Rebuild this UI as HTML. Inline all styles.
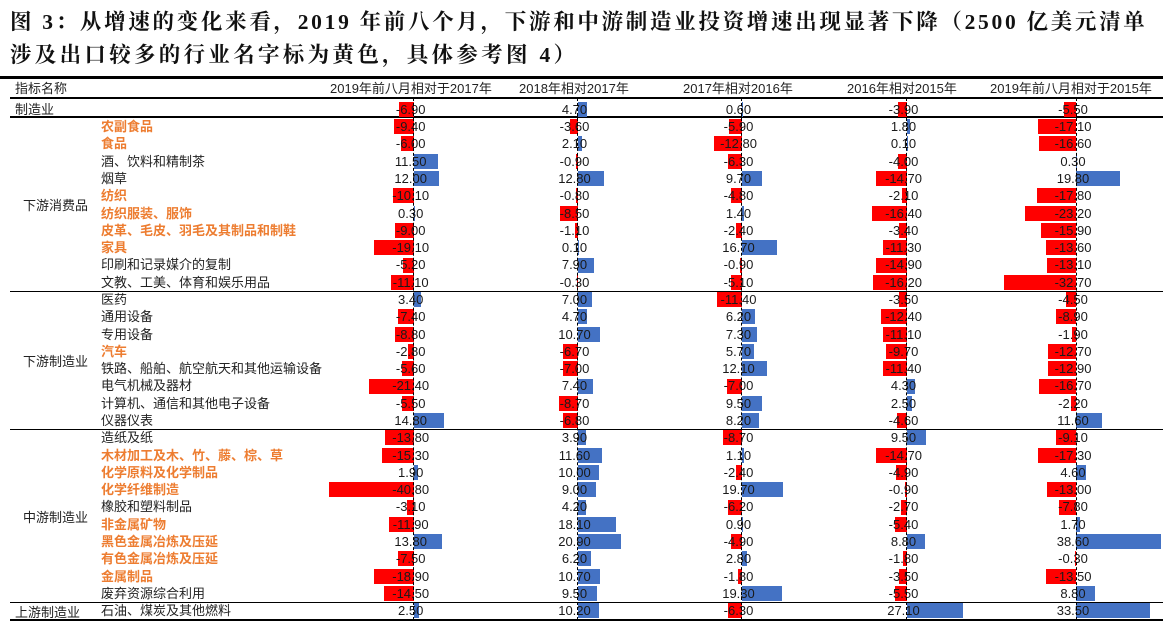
<!DOCTYPE html>
<html><head><meta charset="utf-8"><style>
*{margin:0;padding:0;box-sizing:border-box}
body{width:1163px;height:627px;background:#fff;position:relative;overflow:hidden;font-family:"Liberation Sans","Noto Sans CJK SC",sans-serif;color:#222}
.tt{position:absolute;left:10px;white-space:nowrap;font-family:"Liberation Serif","Noto Serif CJK SC",serif;font-weight:bold;font-size:21.5px;color:#111}
.hl{position:absolute;background:#000}
.hd{position:absolute;top:81px;font-size:13px;white-space:nowrap;line-height:16px}
.r{position:absolute;left:0;width:1163px;height:17.3px;font-size:13px;line-height:17.3px}
.nm{position:absolute;left:101px;white-space:nowrap}
.o{color:#ED7D31;font-weight:bold}
.c{position:absolute;top:0;width:0;height:17.3px}
.k1{left:413.7px;--s:2.08}.k2{left:577.5px;--s:2.1}.k3{left:741.5px;--s:2.12}.k4{left:906.5px;--s:2.08}.k5{left:1076px;--s:2.2}
.c b{position:absolute;top:1.2px;height:15px;width:calc(var(--v)*var(--s)*1px)}
.c b.n{right:0;background:#FF0000}
.c b.p{left:0;background:#4472C4}
.c span{position:absolute;left:-43px;width:80px;text-align:center;color:#1a1a1a;white-space:nowrap}
.ax{position:absolute;top:98px;height:522px;width:0;border-left:1.5px dashed #000;z-index:5}
.g{position:absolute;font-size:13px;white-space:nowrap}
</style></head><body>
<div class="tt" style="top:5px;letter-spacing:2.7px">图 3：从增速的变化来看，2019 年前八个月，下游和中游制造业投资增速出现显著下降（2500 亿美元清单</div>
<div class="tt" style="top:38px;letter-spacing:3.3px">涉及出口较多的行业名字标为黄色，具体参考图 4）</div>
<div class="hl" style="left:0;top:76px;width:1163px;height:3px"></div>
<div class="hd" style="left:15px">指标名称</div>
<div class="hd" style="left:330px">2019年前八月相对于2017年</div>
<div class="hd" style="left:519px">2018年相对2017年</div>
<div class="hd" style="left:683px">2017年相对2016年</div>
<div class="hd" style="left:847px">2016年相对2015年</div>
<div class="hd" style="left:990px">2019年前八月相对于2015年</div>
<div class="hl" style="left:10px;top:97px;width:1153px;height:1.5px"></div>
<div class="hl" style="left:10px;top:116px;width:1153px;height:1.5px"></div>
<div class="hl" style="left:10px;top:290.5px;width:1153px;height:1.5px"></div>
<div class="hl" style="left:10px;top:428.5px;width:1153px;height:1.5px"></div>
<div class="hl" style="left:10px;top:601.5px;width:1153px;height:1.5px"></div>
<div class="hl" style="left:10px;top:619px;width:1153px;height:2px"></div>
<div class="ax" style="left:413px"></div><div class="ax" style="left:577px"></div><div class="ax" style="left:741px"></div><div class="ax" style="left:906px"></div><div class="ax" style="left:1075.5px"></div>
<div class="g" style="left:23px;top:195px">下游消费品</div>
<div class="g" style="left:23px;top:351px">下游制造业</div>
<div class="g" style="left:23px;top:507px">中游制造业</div>
<div class="g" style="left:15px;top:602px">上游制造业</div>

<div class="r" style="top:100.8px"><span class="nm" style="left:15px">制造业</span><div class="c k1"><b class="n" style="--v:6.9"></b><span>-6.90</span></div><div class="c k2"><b class="p" style="--v:4.7"></b><span>4.70</span></div><div class="c k3"><b class="p" style="--v:0.6"></b><span>0.60</span></div><div class="c k4"><b class="n" style="--v:3.9"></b><span>-3.90</span></div><div class="c k5"><b class="n" style="--v:5.5"></b><span>-5.50</span></div></div>
<div class="r" style="top:118.0px"><span class="nm o">农副食品</span><div class="c k1"><b class="n" style="--v:9.4"></b><span>-9.40</span></div><div class="c k2"><b class="n" style="--v:3.6"></b><span>-3.60</span></div><div class="c k3"><b class="n" style="--v:5.9"></b><span>-5.90</span></div><div class="c k4"><b class="p" style="--v:1.8"></b><span>1.80</span></div><div class="c k5"><b class="n" style="--v:17.1"></b><span>-17.10</span></div></div>
<div class="r" style="top:135.3px"><span class="nm o">食品</span><div class="c k1"><b class="n" style="--v:6.0"></b><span>-6.00</span></div><div class="c k2"><b class="p" style="--v:2.1"></b><span>2.10</span></div><div class="c k3"><b class="n" style="--v:12.8"></b><span>-12.80</span></div><div class="c k4"><b class="p" style="--v:0.1"></b><span>0.10</span></div><div class="c k5"><b class="n" style="--v:16.6"></b><span>-16.60</span></div></div>
<div class="r" style="top:152.6px"><span class="nm">酒、饮料和精制茶</span><div class="c k1"><b class="p" style="--v:11.5"></b><span>11.50</span></div><div class="c k2"><b class="n" style="--v:0.9"></b><span>-0.90</span></div><div class="c k3"><b class="n" style="--v:6.3"></b><span>-6.30</span></div><div class="c k4"><b class="n" style="--v:4.0"></b><span>-4.00</span></div><div class="c k5"><b class="p" style="--v:0.3"></b><span>0.30</span></div></div>
<div class="r" style="top:169.9px"><span class="nm">烟草</span><div class="c k1"><b class="p" style="--v:12.0"></b><span>12.00</span></div><div class="c k2"><b class="p" style="--v:12.8"></b><span>12.80</span></div><div class="c k3"><b class="p" style="--v:9.7"></b><span>9.70</span></div><div class="c k4"><b class="n" style="--v:14.7"></b><span>-14.70</span></div><div class="c k5"><b class="p" style="--v:19.8"></b><span>19.80</span></div></div>
<div class="r" style="top:187.2px"><span class="nm o">纺织</span><div class="c k1"><b class="n" style="--v:10.1"></b><span>-10.10</span></div><div class="c k2"><b class="n" style="--v:0.8"></b><span>-0.80</span></div><div class="c k3"><b class="n" style="--v:4.8"></b><span>-4.80</span></div><div class="c k4"><b class="n" style="--v:2.1"></b><span>-2.10</span></div><div class="c k5"><b class="n" style="--v:17.8"></b><span>-17.80</span></div></div>
<div class="r" style="top:204.5px"><span class="nm o">纺织服装、服饰</span><div class="c k1"><b class="p" style="--v:0.3"></b><span>0.30</span></div><div class="c k2"><b class="n" style="--v:8.5"></b><span>-8.50</span></div><div class="c k3"><b class="p" style="--v:1.4"></b><span>1.40</span></div><div class="c k4"><b class="n" style="--v:16.4"></b><span>-16.40</span></div><div class="c k5"><b class="n" style="--v:23.2"></b><span>-23.20</span></div></div>
<div class="r" style="top:221.8px"><span class="nm o">皮革、毛皮、羽毛及其制品和制鞋</span><div class="c k1"><b class="n" style="--v:9.0"></b><span>-9.00</span></div><div class="c k2"><b class="n" style="--v:1.1"></b><span>-1.10</span></div><div class="c k3"><b class="n" style="--v:2.4"></b><span>-2.40</span></div><div class="c k4"><b class="n" style="--v:3.4"></b><span>-3.40</span></div><div class="c k5"><b class="n" style="--v:15.9"></b><span>-15.90</span></div></div>
<div class="r" style="top:239.1px"><span class="nm o">家具</span><div class="c k1"><b class="n" style="--v:19.1"></b><span>-19.10</span></div><div class="c k2"><b class="p" style="--v:0.1"></b><span>0.10</span></div><div class="c k3"><b class="p" style="--v:16.7"></b><span>16.70</span></div><div class="c k4"><b class="n" style="--v:11.3"></b><span>-11.30</span></div><div class="c k5"><b class="n" style="--v:13.6"></b><span>-13.60</span></div></div>
<div class="r" style="top:256.4px"><span class="nm">印刷和记录媒介的复制</span><div class="c k1"><b class="n" style="--v:5.2"></b><span>-5.20</span></div><div class="c k2"><b class="p" style="--v:7.9"></b><span>7.90</span></div><div class="c k3"><b class="n" style="--v:0.9"></b><span>-0.90</span></div><div class="c k4"><b class="n" style="--v:14.9"></b><span>-14.90</span></div><div class="c k5"><b class="n" style="--v:13.1"></b><span>-13.10</span></div></div>
<div class="r" style="top:273.7px"><span class="nm">文教、工美、体育和娱乐用品</span><div class="c k1"><b class="n" style="--v:11.1"></b><span>-11.10</span></div><div class="c k2"><b class="n" style="--v:0.3"></b><span>-0.30</span></div><div class="c k3"><b class="n" style="--v:5.1"></b><span>-5.10</span></div><div class="c k4"><b class="n" style="--v:16.2"></b><span>-16.20</span></div><div class="c k5"><b class="n" style="--v:32.7"></b><span>-32.70</span></div></div>
<div class="r" style="top:291.0px"><span class="nm">医药</span><div class="c k1"><b class="p" style="--v:3.4"></b><span>3.40</span></div><div class="c k2"><b class="p" style="--v:7.0"></b><span>7.00</span></div><div class="c k3"><b class="n" style="--v:11.4"></b><span>-11.40</span></div><div class="c k4"><b class="n" style="--v:3.5"></b><span>-3.50</span></div><div class="c k5"><b class="n" style="--v:4.5"></b><span>-4.50</span></div></div>
<div class="r" style="top:308.2px"><span class="nm">通用设备</span><div class="c k1"><b class="n" style="--v:7.4"></b><span>-7.40</span></div><div class="c k2"><b class="p" style="--v:4.7"></b><span>4.70</span></div><div class="c k3"><b class="p" style="--v:6.2"></b><span>6.20</span></div><div class="c k4"><b class="n" style="--v:12.4"></b><span>-12.40</span></div><div class="c k5"><b class="n" style="--v:8.9"></b><span>-8.90</span></div></div>
<div class="r" style="top:325.5px"><span class="nm">专用设备</span><div class="c k1"><b class="n" style="--v:8.8"></b><span>-8.80</span></div><div class="c k2"><b class="p" style="--v:10.7"></b><span>10.70</span></div><div class="c k3"><b class="p" style="--v:7.3"></b><span>7.30</span></div><div class="c k4"><b class="n" style="--v:11.1"></b><span>-11.10</span></div><div class="c k5"><b class="n" style="--v:1.9"></b><span>-1.90</span></div></div>
<div class="r" style="top:342.8px"><span class="nm o">汽车</span><div class="c k1"><b class="n" style="--v:2.8"></b><span>-2.80</span></div><div class="c k2"><b class="n" style="--v:6.7"></b><span>-6.70</span></div><div class="c k3"><b class="p" style="--v:5.7"></b><span>5.70</span></div><div class="c k4"><b class="n" style="--v:9.7"></b><span>-9.70</span></div><div class="c k5"><b class="n" style="--v:12.7"></b><span>-12.70</span></div></div>
<div class="r" style="top:360.1px"><span class="nm">铁路、船舶、航空航天和其他运输设备</span><div class="c k1"><b class="n" style="--v:5.6"></b><span>-5.60</span></div><div class="c k2"><b class="n" style="--v:7.0"></b><span>-7.00</span></div><div class="c k3"><b class="p" style="--v:12.1"></b><span>12.10</span></div><div class="c k4"><b class="n" style="--v:11.4"></b><span>-11.40</span></div><div class="c k5"><b class="n" style="--v:12.9"></b><span>-12.90</span></div></div>
<div class="r" style="top:377.4px"><span class="nm">电气机械及器材</span><div class="c k1"><b class="n" style="--v:21.4"></b><span>-21.40</span></div><div class="c k2"><b class="p" style="--v:7.4"></b><span>7.40</span></div><div class="c k3"><b class="n" style="--v:7.0"></b><span>-7.00</span></div><div class="c k4"><b class="p" style="--v:4.3"></b><span>4.30</span></div><div class="c k5"><b class="n" style="--v:16.7"></b><span>-16.70</span></div></div>
<div class="r" style="top:394.7px"><span class="nm">计算机、通信和其他电子设备</span><div class="c k1"><b class="n" style="--v:5.5"></b><span>-5.50</span></div><div class="c k2"><b class="n" style="--v:8.7"></b><span>-8.70</span></div><div class="c k3"><b class="p" style="--v:9.5"></b><span>9.50</span></div><div class="c k4"><b class="p" style="--v:2.5"></b><span>2.50</span></div><div class="c k5"><b class="n" style="--v:2.2"></b><span>-2.20</span></div></div>
<div class="r" style="top:412.0px"><span class="nm">仪器仪表</span><div class="c k1"><b class="p" style="--v:14.8"></b><span>14.80</span></div><div class="c k2"><b class="n" style="--v:6.8"></b><span>-6.80</span></div><div class="c k3"><b class="p" style="--v:8.2"></b><span>8.20</span></div><div class="c k4"><b class="n" style="--v:4.6"></b><span>-4.60</span></div><div class="c k5"><b class="p" style="--v:11.6"></b><span>11.60</span></div></div>
<div class="r" style="top:429.3px"><span class="nm">造纸及纸</span><div class="c k1"><b class="n" style="--v:13.8"></b><span>-13.80</span></div><div class="c k2"><b class="p" style="--v:3.9"></b><span>3.90</span></div><div class="c k3"><b class="n" style="--v:8.7"></b><span>-8.70</span></div><div class="c k4"><b class="p" style="--v:9.5"></b><span>9.50</span></div><div class="c k5"><b class="n" style="--v:9.1"></b><span>-9.10</span></div></div>
<div class="r" style="top:446.6px"><span class="nm o">木材加工及木、竹、藤、棕、草</span><div class="c k1"><b class="n" style="--v:15.3"></b><span>-15.30</span></div><div class="c k2"><b class="p" style="--v:11.6"></b><span>11.60</span></div><div class="c k3"><b class="p" style="--v:1.1"></b><span>1.10</span></div><div class="c k4"><b class="n" style="--v:14.7"></b><span>-14.70</span></div><div class="c k5"><b class="n" style="--v:17.3"></b><span>-17.30</span></div></div>
<div class="r" style="top:463.9px"><span class="nm o">化学原料及化学制品</span><div class="c k1"><b class="p" style="--v:1.9"></b><span>1.90</span></div><div class="c k2"><b class="p" style="--v:10.0"></b><span>10.00</span></div><div class="c k3"><b class="n" style="--v:2.4"></b><span>-2.40</span></div><div class="c k4"><b class="n" style="--v:4.9"></b><span>-4.90</span></div><div class="c k5"><b class="p" style="--v:4.6"></b><span>4.60</span></div></div>
<div class="r" style="top:481.2px"><span class="nm o">化学纤维制造</span><div class="c k1"><b class="n" style="--v:40.8"></b><span>-40.80</span></div><div class="c k2"><b class="p" style="--v:9.0"></b><span>9.00</span></div><div class="c k3"><b class="p" style="--v:19.7"></b><span>19.70</span></div><div class="c k4"><b class="n" style="--v:0.9"></b><span>-0.90</span></div><div class="c k5"><b class="n" style="--v:13.0"></b><span>-13.00</span></div></div>
<div class="r" style="top:498.4px"><span class="nm">橡胶和塑料制品</span><div class="c k1"><b class="n" style="--v:3.1"></b><span>-3.10</span></div><div class="c k2"><b class="p" style="--v:4.2"></b><span>4.20</span></div><div class="c k3"><b class="n" style="--v:6.2"></b><span>-6.20</span></div><div class="c k4"><b class="n" style="--v:2.7"></b><span>-2.70</span></div><div class="c k5"><b class="n" style="--v:7.8"></b><span>-7.80</span></div></div>
<div class="r" style="top:515.7px"><span class="nm o">非金属矿物</span><div class="c k1"><b class="n" style="--v:11.9"></b><span>-11.90</span></div><div class="c k2"><b class="p" style="--v:18.1"></b><span>18.10</span></div><div class="c k3"><b class="p" style="--v:0.9"></b><span>0.90</span></div><div class="c k4"><b class="n" style="--v:5.4"></b><span>-5.40</span></div><div class="c k5"><b class="p" style="--v:1.7"></b><span>1.70</span></div></div>
<div class="r" style="top:533.0px"><span class="nm o">黑色金属冶炼及压延</span><div class="c k1"><b class="p" style="--v:13.8"></b><span>13.80</span></div><div class="c k2"><b class="p" style="--v:20.9"></b><span>20.90</span></div><div class="c k3"><b class="n" style="--v:4.9"></b><span>-4.90</span></div><div class="c k4"><b class="p" style="--v:8.8"></b><span>8.80</span></div><div class="c k5"><b class="p" style="--v:38.6"></b><span>38.60</span></div></div>
<div class="r" style="top:550.3px"><span class="nm o">有色金属冶炼及压延</span><div class="c k1"><b class="n" style="--v:7.5"></b><span>-7.50</span></div><div class="c k2"><b class="p" style="--v:6.2"></b><span>6.20</span></div><div class="c k3"><b class="p" style="--v:2.8"></b><span>2.80</span></div><div class="c k4"><b class="n" style="--v:1.8"></b><span>-1.80</span></div><div class="c k5"><b class="n" style="--v:0.3"></b><span>-0.30</span></div></div>
<div class="r" style="top:567.6px"><span class="nm o">金属制品</span><div class="c k1"><b class="n" style="--v:18.9"></b><span>-18.90</span></div><div class="c k2"><b class="p" style="--v:10.7"></b><span>10.70</span></div><div class="c k3"><b class="n" style="--v:1.8"></b><span>-1.80</span></div><div class="c k4"><b class="n" style="--v:3.5"></b><span>-3.50</span></div><div class="c k5"><b class="n" style="--v:13.5"></b><span>-13.50</span></div></div>
<div class="r" style="top:584.9px"><span class="nm">废弃资源综合利用</span><div class="c k1"><b class="n" style="--v:14.5"></b><span>-14.50</span></div><div class="c k2"><b class="p" style="--v:9.5"></b><span>9.50</span></div><div class="c k3"><b class="p" style="--v:19.3"></b><span>19.30</span></div><div class="c k4"><b class="n" style="--v:5.5"></b><span>-5.50</span></div><div class="c k5"><b class="p" style="--v:8.8"></b><span>8.80</span></div></div>
<div class="r" style="top:602.2px"><span class="nm">石油、煤炭及其他燃料</span><div class="c k1"><b class="p" style="--v:2.5"></b><span>2.50</span></div><div class="c k2"><b class="p" style="--v:10.2"></b><span>10.20</span></div><div class="c k3"><b class="n" style="--v:6.3"></b><span>-6.30</span></div><div class="c k4"><b class="p" style="--v:27.1"></b><span>27.10</span></div><div class="c k5"><b class="p" style="--v:33.5"></b><span>33.50</span></div></div>
</body></html>
